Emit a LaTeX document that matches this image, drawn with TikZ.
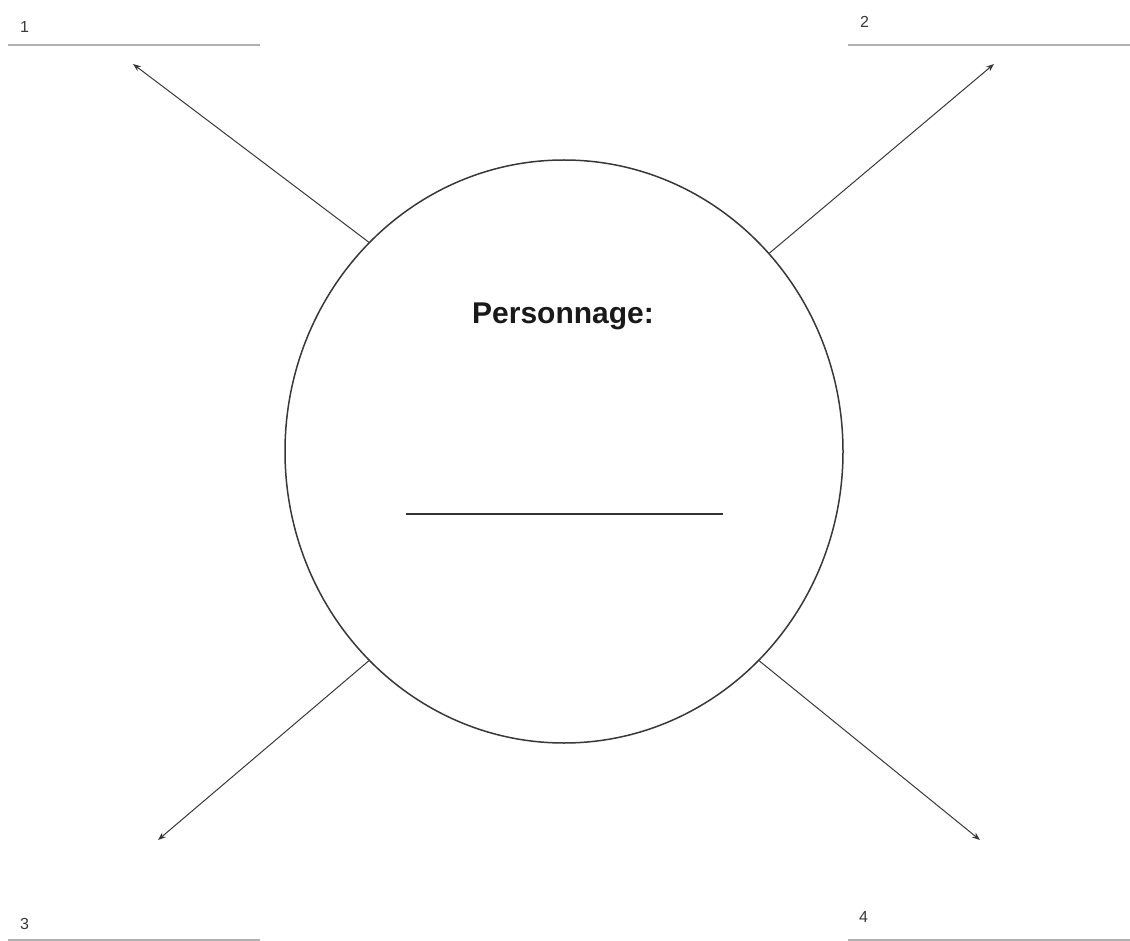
\documentclass[tikz,border=0pt]{standalone}
\usepackage{fontspec}
\setmainfont{Liberation Sans}
\usetikzlibrary{arrows.meta,shapes.geometric}
\definecolor{lineg}{HTML}{B0B0B0}
\definecolor{darkg}{HTML}{383838}
\tikzset{
  blank/.style={draw=lineg, line width=2.2pt},
  numlab/.style={text=darkg, font=\fontsize{16}{18}\selectfont, inner sep=0pt, anchor=base west},
  ray/.style={draw=darkg, line width=1pt, -{Stealth[length=8pt,width=6pt]}},
}
\begin{document}
\begin{tikzpicture}[x=1pt,y=-1pt]
\useasboundingbox (0,0) rectangle (1130,941);
% circle
\node[draw=darkg, line width=1.5pt, ellipse, minimum width=558pt, minimum height=583pt, inner sep=0pt] (c) at (564,451.5) {};
% title and blank
\node[font=\bfseries\fontsize{30}{34}\selectfont, text=black!90] (t) at (563,316) {Personnage:};
\coordinate (u1) at (406,514);
\coordinate (u2) at (723,514);
\draw[line width=2.8pt, draw=black!80] (u1) -- (u2);
% answer lines
\coordinate (a1) at (8,45);   \coordinate (b1) at (260,45);
\coordinate (a2) at (848,45); \coordinate (b2) at (1130,45);
\coordinate (a3) at (8,940);  \coordinate (b3) at (260,940);
\coordinate (a4) at (848,940);\coordinate (b4) at (1130,940);
\draw[blank] (a1) -- (b1);
\draw[blank] (a2) -- (b2);
\draw[blank] (a3) -- (b3);
\draw[blank] (a4) -- (b4);
\node[numlab] (n1) at (20,33) {1};
\node[numlab] (n2) at (860,28) {2};
\node[numlab] (n3) at (20,929) {3};
\node[numlab] (n4) at (859,922) {4};
% rays
\coordinate (e1) at (133,64);
\coordinate (e2) at (994,64);
\coordinate (e3) at (158,840);
\coordinate (e4) at (980,840);
\draw[ray] (c.133.4) -- (e1);
\draw[ray] (c.44.9) -- (e2);
\draw[ray] (c.227.5) -- (e3);
\draw[ray] (c.313.5) -- (e4);
\end{tikzpicture}
\end{document}
